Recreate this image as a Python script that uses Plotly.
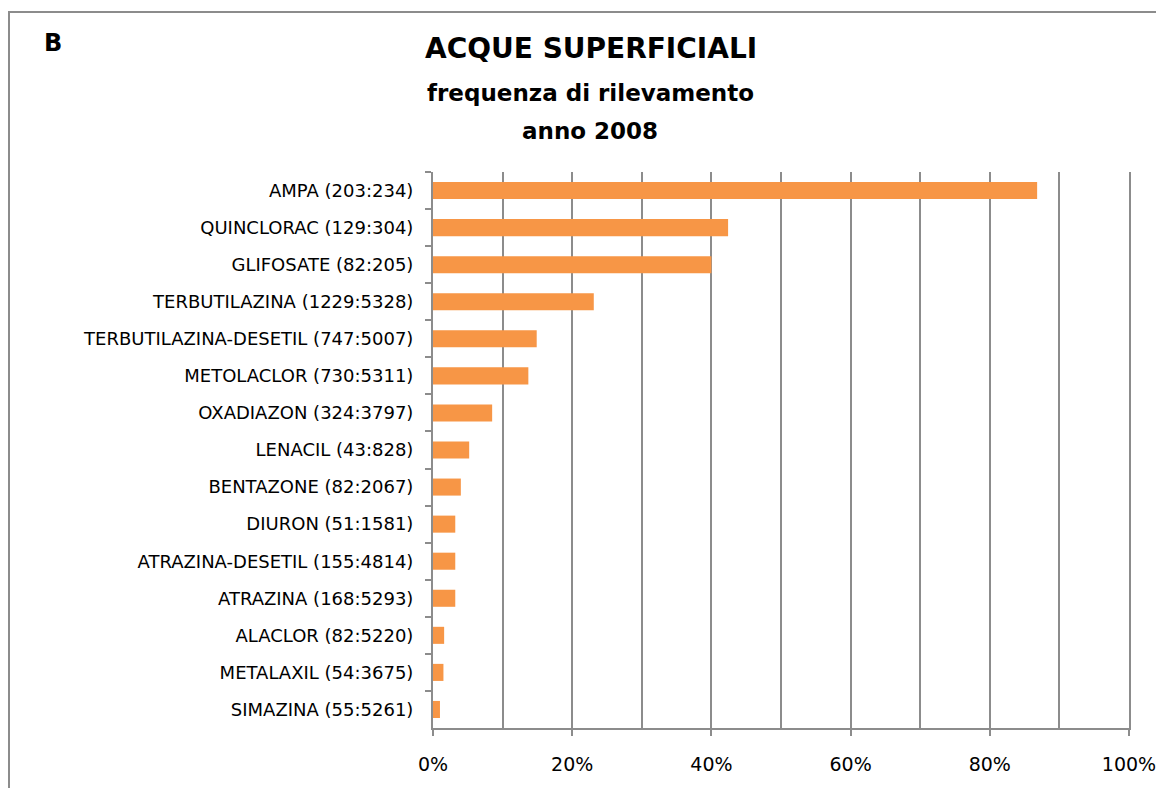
import plotly.graph_objects as go

categories = [
    "AMPA (203:234)",
    "QUINCLORAC (129:304)",
    "GLIFOSATE (82:205)",
    "TERBUTILAZINA (1229:5328)",
    "TERBUTILAZINA-DESETIL (747:5007)",
    "METOLACLOR (730:5311)",
    "OXADIAZON (324:3797)",
    "LENACIL (43:828)",
    "BENTAZONE (82:2067)",
    "DIURON (51:1581)",
    "ATRAZINA-DESETIL (155:4814)",
    "ATRAZINA (168:5293)",
    "ALACLOR (82:5220)",
    "METALAXIL (54:3675)",
    "SIMAZINA (55:5261)",
]
frequency_pct = [86.8, 42.4, 40.0, 23.1, 14.9, 13.7, 8.5, 5.2, 4.0, 3.2, 3.2, 3.2, 1.6, 1.5, 1.0]
x_tick_vals = [0, 20, 40, 60, 80, 100]
x_tick_text = ["0%", "20%", "40%", "60%", "80%", "100%"]

FONT = "DejaVu Sans"
GRID = "#8c8c8c"
OFF = 8  # page body margin
W, H = 1148, 780
# target pixel positions in the page
PL, PR, PT, PB = 433, 1129, 172, 728
L, T = PL - OFF, PT - OFF
R, B = OFF + W - PR, OFF + H - PB
pw, ph = W - L - R, H - T - B

def px_x(x):
    return (x - PL) / pw

def px_y(y):
    return (PB - y) / ph

fig = go.Figure(
    go.Bar(
        x=frequency_pct,
        y=categories,
        orientation="h",
        marker=dict(color="#F79646", line=dict(width=0)),
        hoverinfo="x+y",
    )
)

fig.update_layout(
    width=W,
    height=H,
    margin=dict(l=L, r=R, t=T, b=B, autoexpand=False),
    paper_bgcolor="white",
    plot_bgcolor="white",
    showlegend=False,
    bargap=0.54,
    font=dict(family=FONT, color="black"),
    xaxis=dict(
        range=[0, 100],
        tickvals=x_tick_vals,
        ticktext=x_tick_text,
        showgrid=True,
        gridcolor=GRID,
        gridwidth=2,
        minor=dict(dtick=10, showgrid=True, gridcolor=GRID, gridwidth=2),
        showline=True,
        linecolor=GRID,
        linewidth=2,
        ticks="outside",
        ticklen=6,
        tickwidth=2,
        tickcolor=GRID,
        ticklabelstandoff=12,
        ticklabeloverflow="allow",
        tickfont=dict(family=FONT, size=19, color="black"),
        zeroline=False,
        automargin=False,
        fixedrange=True,
    ),
    yaxis=dict(
        categoryorder="array",
        categoryarray=categories,
        autorange="reversed",
        showgrid=False,
        showline=True,
        mirror=True,
        linecolor=GRID,
        linewidth=2,
        ticks="outside",
        tickson="boundaries",
        ticklen=6,
        tickwidth=2,
        tickcolor=GRID,
        ticklabelstandoff=14,
        tickfont=dict(family=FONT, size=18, color="black"),
        automargin=False,
        fixedrange=True,
    ),
    shapes=[
        dict(
            type="rect",
            xref="paper",
            yref="paper",
            x0=px_x(9),
            x1=px_x(1175),
            y0=px_y(805),
            y1=px_y(12),
            line=dict(color=GRID, width=2),
            fillcolor="rgba(0,0,0,0)",
            layer="below",
        )
    ],
    annotations=[
        dict(text="<b>B</b>", x=px_x(53), y=px_y(43), xref="paper", yref="paper",
             showarrow=False, xanchor="center", yanchor="middle",
             font=dict(family=FONT, size=24, color="black")),
        dict(text="<b>ACQUE SUPERFICIALI</b>", x=px_x(591), y=px_y(48), xref="paper", yref="paper",
             showarrow=False, xanchor="center", yanchor="middle",
             font=dict(family=FONT, size=28, color="black")),
        dict(text="<b>frequenza di rilevamento</b>", x=px_x(590), y=px_y(93), xref="paper", yref="paper",
             showarrow=False, xanchor="center", yanchor="middle",
             font=dict(family=FONT, size=23, color="black")),
        dict(text="<b>anno 2008</b>", x=px_x(590), y=px_y(131), xref="paper", yref="paper",
             showarrow=False, xanchor="center", yanchor="middle",
             font=dict(family=FONT, size=23, color="black")),
    ],
)

fig.write_html("out.html")
